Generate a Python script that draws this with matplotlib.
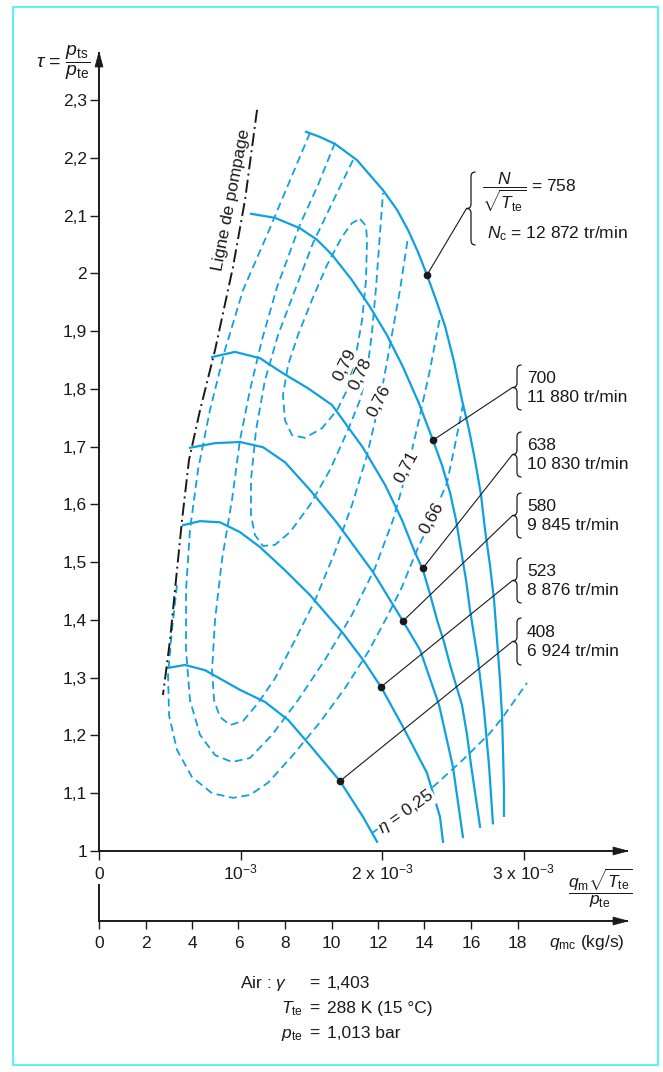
import matplotlib
matplotlib.use("Agg")
import matplotlib.pyplot as plt
from matplotlib.path import Path
from matplotlib.patches import PathPatch, Rectangle, Polygon

plt.rcParams["font.family"] = ["Liberation Sans", "DejaVu Sans"]
plt.rcParams["mathtext.fontset"] = "custom"
plt.rcParams["mathtext.rm"] = "Liberation Sans"
plt.rcParams["mathtext.it"] = "Liberation Sans:italic"
plt.rcParams["mathtext.bf"] = "Liberation Sans:bold"

BLUE = "#0fa0e0"
INK = "#1a1a1a"
FS = 12.5

# axes
tau_ticks = [1.0, 1.1, 1.2, 1.3, 1.4, 1.5, 1.6, 1.7, 1.8, 1.9, 2.0, 2.1, 2.2, 2.3]
flow_ticks = [0, 1, 2, 3]  # x 1e-3
flow_tick_labels = ["0", "10$^{-3}$", "2 x 10$^{-3}$", "3 x 10$^{-3}$"]
qmc_ticks = [0, 2, 4, 6, 8, 10, 12, 14, 16, 18]

# lignes iso-vitesse : débit réduit (x 1e-3) / taux de compression
q_n408 = [0.488, 0.608, 0.749, 0.996, 1.173, 1.336, 1.491, 1.703, 1.866, 1.965]
tau_n408 = [1.317, 1.322, 1.313, 1.279, 1.258, 1.227, 1.183, 1.121, 1.059, 1.016]

q_n523 = [0.594, 0.714, 0.855, 0.996, 1.138, 1.314, 1.491, 1.724, 1.866, 1.993, 2.148, 2.318, 2.410, 2.431]
tau_n523 = [1.564, 1.571, 1.569, 1.552, 1.526, 1.486, 1.443, 1.377, 1.331, 1.284, 1.215, 1.135, 1.059, 1.016]

q_n580 = [0.643, 0.820, 0.996, 1.159, 1.314, 1.491, 1.682, 1.936, 2.148, 2.269, 2.403, 2.502, 2.572]
tau_n580 = [1.698, 1.706, 1.708, 1.699, 1.673, 1.625, 1.568, 1.483, 1.398, 1.348, 1.253, 1.145, 1.024]

q_n638 = [0.799, 0.961, 1.138, 1.300, 1.477, 1.647, 1.866, 2.021, 2.141, 2.226, 2.290, 2.339,
          2.389, 2.438, 2.481, 2.565, 2.601, 2.629, 2.693]
tau_n638 = [1.855, 1.864, 1.853, 1.827, 1.801, 1.772, 1.698, 1.634, 1.573, 1.521, 1.486, 1.445,
            1.400, 1.362, 1.322, 1.253, 1.201, 1.149, 1.042]

q_n700 = [1.074, 1.244, 1.420, 1.541, 1.647, 1.788, 1.915, 2.035, 2.148, 2.261, 2.360, 2.424,
          2.481, 2.523, 2.558, 2.594, 2.622, 2.650, 2.678, 2.721, 2.756, 2.784]
tau_n700 = [2.103, 2.096, 2.078, 2.058, 2.032, 1.988, 1.942, 1.893, 1.838, 1.775, 1.711, 1.668,
            1.620, 1.573, 1.521, 1.469, 1.417, 1.374, 1.331, 1.244, 1.149, 1.048]

q_n758 = [1.463, 1.562, 1.668, 1.823, 2.007, 2.106, 2.184, 2.254, 2.318, 2.382, 2.445, 2.509,
          2.565, 2.615, 2.657, 2.700, 2.728, 2.763, 2.792, 2.813, 2.834, 2.848, 2.855, 2.862, 2.862]
tau_n758 = [2.245, 2.236, 2.224, 2.196, 2.144, 2.110, 2.075, 2.037, 1.997, 1.954, 1.909, 1.847,
            1.781, 1.729, 1.677, 1.616, 1.556, 1.495, 1.434, 1.365, 1.296, 1.235, 1.175, 1.106, 1.061]

speed_names = ["408", "523", "580", "638", "700", "758"]
speed_rpm = ["6 924", "8 876", "9 845", "10 830", "11 880", "12 872"]
dot_q = [1.703, 1.993, 2.148, 2.290, 2.360, 2.318]
dot_tau = [1.121, 1.284, 1.398, 1.490, 1.711, 1.997]

# ligne de pompage
q_surge = [1.117, 1.032, 0.947, 0.820, 0.714, 0.636, 0.587, 0.544, 0.502, 0.452]
tau_surge = [2.283, 2.127, 2.011, 1.867, 1.763, 1.677, 1.573, 1.469, 1.365, 1.270]

# iso-rendement
q_e79 = [1.845, 1.887, 1.894, 1.887, 1.859, 1.816, 1.753, 1.682, 1.576, 1.456, 1.364, 1.314, 1.300, 1.336, 1.406, 1.505, 1.611, 1.717, 1.788, 1.845]
tau_e79 = [2.094, 2.082, 2.058, 1.988, 1.919, 1.859, 1.798, 1.763, 1.732, 1.715, 1.720, 1.746, 1.789, 1.841, 1.893, 1.954, 2.014, 2.063, 2.087, 2.094]

q_e78 = [1.795, 1.668, 1.512, 1.385, 1.265, 1.173, 1.110, 1.074, 1.074, 1.102, 1.159, 1.244, 1.350, 1.491, 1.633, 1.760, 1.845, 1.894, 1.929, 1.958, 1.986, 2.007]
tau_e78 = [2.196, 2.132, 2.052, 1.971, 1.893, 1.815, 1.729, 1.642, 1.582, 1.547, 1.528, 1.530, 1.552, 1.599, 1.660, 1.729, 1.781, 1.829, 1.897, 1.976, 2.070, 2.139]

q_e76 = [1.668, 1.548, 1.420, 1.258, 1.152, 1.067, 0.996, 0.940, 0.869, 0.820, 0.799, 0.813, 0.855, 0.926, 1.018, 1.124, 1.244, 1.385, 1.527, 1.668, 1.788, 1.894, 1.986, 2.057, 2.127, 2.184]
tau_e76 = [2.226, 2.153, 2.084, 1.976, 1.885, 1.798, 1.711, 1.608, 1.504, 1.400, 1.313, 1.261, 1.232, 1.218, 1.225, 1.256, 1.299, 1.365, 1.434, 1.518, 1.599, 1.685, 1.781, 1.876, 1.971, 2.063]

q_e71 = [1.491, 1.350, 1.194, 1.018, 0.890, 0.784, 0.700, 0.643, 0.615, 0.615, 0.643, 0.714, 0.820, 0.940, 1.067, 1.223, 1.406, 1.597, 1.788, 1.951, 2.078, 2.184, 2.261, 2.339, 2.410]
tau_e71 = [2.243, 2.161, 2.070, 1.971, 1.867, 1.763, 1.660, 1.556, 1.452, 1.348, 1.261, 1.201, 1.166, 1.154, 1.161, 1.201, 1.261, 1.331, 1.409, 1.490, 1.573, 1.665, 1.746, 1.833, 1.924]

q_e66 = [0.551, 0.516, 0.488, 0.495, 0.551, 0.657, 0.799, 0.947, 1.067, 1.194, 1.371, 1.562, 1.739, 1.901, 2.035, 2.141, 2.247, 2.353, 2.459, 2.516, 2.572]
tau_e66 = [1.460, 1.383, 1.305, 1.235, 1.175, 1.128, 1.100, 1.092, 1.097, 1.118, 1.166, 1.223, 1.282, 1.344, 1.405, 1.457, 1.521, 1.576, 1.637, 1.703, 1.772]

q_e25 = [1.929, 2.127, 2.375, 2.572, 2.763, 2.855, 3.025]
tau_e25 = [1.031, 1.066, 1.114, 1.158, 1.204, 1.232, 1.291]

eff_names = ["0,79", "0,78", "0,76", "0,71", "0,66"]

W, H = 663, 1072


def rect(x0, y0, x1, y1):
    # boite en pixels (origine en haut) -> fraction de figure
    return [x0 / W, 1 - y1 / H, (x1 - x0) / W, (y1 - y0) / H]


fig = plt.figure(figsize=(W / 100, H / 100), dpi=100, facecolor="white")

ax = fig.add_axes(rect(99, 53, 627, 851))
ax.set_xlim(0, 528 / 141.5)
ax.set_ylim(1, 1 + 798 / 577.7)
ax.patch.set_visible(False)
for s in ("top", "right"):
    ax.spines[s].set_visible(False)
for s in ("left", "bottom"):
    ax.spines[s].set_color(INK)
    ax.spines[s].set_linewidth(1.4)

ax.set_yticks(tau_ticks, [f"{v:g}".replace(".", ",") for v in tau_ticks])
ax.set_xticks(flow_ticks, flow_tick_labels)
ax.tick_params(direction="out", length=6.5, width=1.0, color=INK,
               labelsize=FS, labelcolor=INK)
ax.tick_params(axis="y", pad=2)
ax.tick_params(axis="x", pad=13.7)
for lab in ax.get_xticklabels():
    lab.set_verticalalignment("baseline")

# courbes
for q, t in [(q_e79, tau_e79), (q_e78, tau_e78), (q_e76, tau_e76),
             (q_e71, tau_e71), (q_e66, tau_e66), (q_e25, tau_e25)]:
    ax.plot(q, t, color=BLUE, lw=1.3, ls=(0, (4.4, 2.6)), zorder=2)

for q, t in [(q_n408, tau_n408), (q_n523, tau_n523), (q_n580, tau_n580),
             (q_n638, tau_n638), (q_n700, tau_n700), (q_n758, tau_n758)]:
    ax.plot(q, t, color=BLUE, lw=1.6, solid_joinstyle="round", zorder=3)

ax.plot(q_surge, tau_surge, color=INK, lw=1.4, ls=(0, (6.7, 2.2, 1.0, 2.2)), zorder=3)
ax.plot(dot_q, dot_tau, "o", color=INK, ms=4.5, zorder=6)

# axe des débits (kg/s)
ax2 = fig.add_axes(rect(99, 885, 627, 921))
ax2.set_xlim(0, 528 / 23.25)
ax2.patch.set_visible(False)
for s in ("top", "right"):
    ax2.spines[s].set_visible(False)
for s in ("left", "bottom"):
    ax2.spines[s].set_color(INK)
    ax2.spines[s].set_linewidth(1.4)
ax2.set_yticks([])
ax2.set_xticks(qmc_ticks, [str(v) for v in qmc_ticks])
ax2.tick_params(axis="x", direction="out", length=6, width=1.0, color=INK,
                labelsize=FS, labelcolor=INK, pad=5)

# calque en pixels pour les annotations
ov = fig.add_axes([0, 0, 1, 1], zorder=5)
ov.set_xlim(0, W)
ov.set_ylim(H, 0)
ov.axis("off")

ov.add_patch(Rectangle((13, 7), 645, 1058, fill=False, ec="#62eef6", lw=1.5))

for tri in ([(99, 52), (95, 67), (103, 67)],
            [(628, 851), (613, 847), (613, 855)],
            [(628, 921), (613, 917), (613, 925)]):
    ov.add_patch(Polygon(tri, closed=True, fc=INK, ec=INK, lw=0.5))

ov.text(90, 63, r"$\tau$ = $\dfrac{p_\mathrm{ts}}{p_\mathrm{te}}$", ha="right", va="center",
        fontsize=14, color=INK)
ov.text(600, 888, r"$\dfrac{q_\mathrm{m}\sqrt{T_\mathrm{te}}}{p_\mathrm{te}}$", ha="center",
        va="center", fontsize=FS, color=INK)
ov.text(549, 943, r"$q_\mathrm{mc}$ (kg/s)", ha="left", va="center", fontsize=FS, color=INK)

ov.text(231, 200, "Ligne de pompage", rotation=79, ha="center", va="center",
        rotation_mode="anchor", fontsize=FS, color=INK)

bb = dict(fc="white", ec="none", pad=0.6)
for name, (x, y, a) in zip(eff_names, [(345, 365, 64), (361, 374, 65), (379, 401, 63),
                                       (407, 467, 62), (432, 518, 61)]):
    ov.text(x, y, name, rotation=a, rotation_mode="anchor", ha="center", va="center",
            fontsize=FS, color=INK, bbox=bb)
ov.text(406, 812, r"$\eta$ = 0,25", rotation=35, rotation_mode="anchor", ha="center",
        va="center", fontsize=FS, color=INK, bbox=bb)


def brace(x, y0, y1, w=4.5):
    ym = (y0 + y1) / 2
    verts = [(x + w, y0), (x, y0), (x, y0 + w), (x, ym - w), (x, ym), (x - w, ym),
             (x, ym), (x, ym + w), (x, y1 - w), (x, y1), (x + w, y1)]
    codes = [Path.MOVETO, Path.CURVE3, Path.CURVE3, Path.LINETO, Path.CURVE3, Path.CURVE3,
             Path.CURVE3, Path.CURVE3, Path.LINETO, Path.CURVE3, Path.CURVE3]
    ov.add_patch(PathPatch(Path(verts, codes), fill=False, ec=INK, lw=0.9))
    return x - w, ym


brace_boxes = [(517, 618, 665), (517, 558, 603), (517, 493, 538),
               (517, 432, 477), (517, 365, 410), (471, 172, 245)]
for i, (bx, y0, y1) in enumerate(brace_boxes):
    tx, ty = brace(bx, y0, y1)
    ax.annotate("", xy=(dot_q[i], dot_tau[i]), xytext=(tx, ty), textcoords=ov.transData,
                arrowprops=dict(arrowstyle="-", color=INK, lw=0.8, shrinkA=0, shrinkB=0))
    if speed_names[i] == "758":
        ov.text(482, 192, r"$\dfrac{N}{\sqrt{T_\mathrm{te}}}$ = " + speed_names[i],
                ha="left", va="center", fontsize=FS, color=INK)
        ov.text(487, 238, r"$N_\mathrm{c}$ = " + speed_rpm[i] + " tr/min",
                ha="left", va="baseline", fontsize=FS, color=INK)
    else:
        ov.text(527, ty - 9, speed_names[i], ha="left", va="center", fontsize=FS, color=INK)
        ov.text(527, ty + 10, speed_rpm[i] + " tr/min", ha="left", va="center",
                fontsize=FS, color=INK)

# conditions d'essai
rows = [(r"Air : $\gamma$", "1,403", 988), (r"$T_\mathrm{te}$", "288 K (15 °C)", 1013),
        (r"$p_\mathrm{te}$", "1,013 bar", 1038)]
for j, (lhs, rhs, yb) in enumerate(rows):
    if j == 0:
        ov.text(240, yb, lhs, ha="left", va="baseline", fontsize=FS, color=INK)
    else:
        ov.text(303, yb, lhs, ha="right", va="baseline", fontsize=FS, color=INK)
    ov.text(314, yb, "=", ha="center", va="baseline", fontsize=FS, color=INK)
    ov.text(327, yb, rhs, ha="left", va="baseline", fontsize=FS, color=INK)

fig.savefig("out.png", dpi=100)
plt.close(fig)
